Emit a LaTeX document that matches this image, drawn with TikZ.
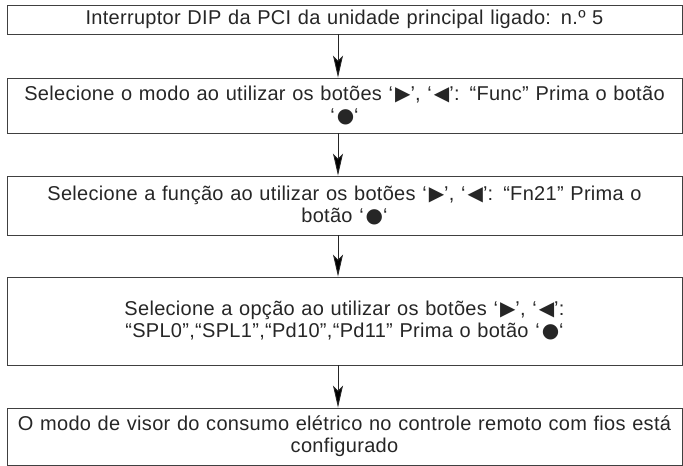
\documentclass[tikz,border=0pt]{standalone}
\usepackage{fontspec}
\setmainfont{Liberation Sans}[LetterSpace=1.5]
\newfontfamily\symf[Scale=1.0]{DejaVu Sans}
\usetikzlibrary{arrows.meta}
\newcommand{\rtri}{{\symf ▶}}
\newcommand{\ltri}{{\symf ◀}}
\newcommand{\bdot}{{\symf ●}}
\newcommand{\lqs}{‘\kern2pt}
\begin{document}
\begin{tikzpicture}[x=1pt,y=-1pt,
  box/.style={draw=black!75, line width=0.9pt, inner sep=0pt, minimum width=675pt,
    text width=675pt, align=center, font=\fontsize{20}{22}\selectfont, text=black!85},
  arr/.style={draw=black!85, line width=0.9pt, -{Stealth[length=22pt, width=10pt, inset=5pt, fill=black]}}]
\useasboundingbox (0,0) rectangle (683,466);
\node[box, minimum height=29pt] (b1) at (344.5,19.5) {Interruptor DIP da PCI da unidade principal ligado: n.º 5};
\node[box, minimum height=55pt] (b2) at (344.5,105.5) {Selecione o modo ao utilizar os botões \lqs\rtri’, \lqs\ltri’: “Func” Prima o botão\\ \lqs\bdot‘};
\node[box, minimum height=59pt] (b3) at (344.5,205.5) {Selecione a função ao utilizar os botões \lqs\rtri’, \lqs\ltri’: “Fn21” Prima o\\ botão \lqs\bdot‘};
\node[box, minimum height=88pt] (b4) at (344.5,321) {Selecione a opção ao utilizar os botões \lqs\rtri’, \lqs\ltri’:\\ “SPL0”,“SPL1”,“Pd10”,“Pd11” Prima o botão \lqs\bdot‘};
\node[box, minimum height=57pt] (b5) at (344.5,436.5) {O modo de visor do consumo elétrico no controle remoto com fios está\\ configurado};
\draw[arr] ([xshift=-6.5pt]b1.south) -- ([xshift=-6.5pt]b2.north);
\draw[arr] ([xshift=-6.5pt]b2.south) -- ([xshift=-6.5pt]b3.north);
\draw[arr] ([xshift=-6.5pt]b3.south) -- ([xshift=-6.5pt]b4.north);
\draw[arr] ([xshift=-6.5pt]b4.south) -- ([xshift=-6.5pt]b5.north);
\end{tikzpicture}
\end{document}
